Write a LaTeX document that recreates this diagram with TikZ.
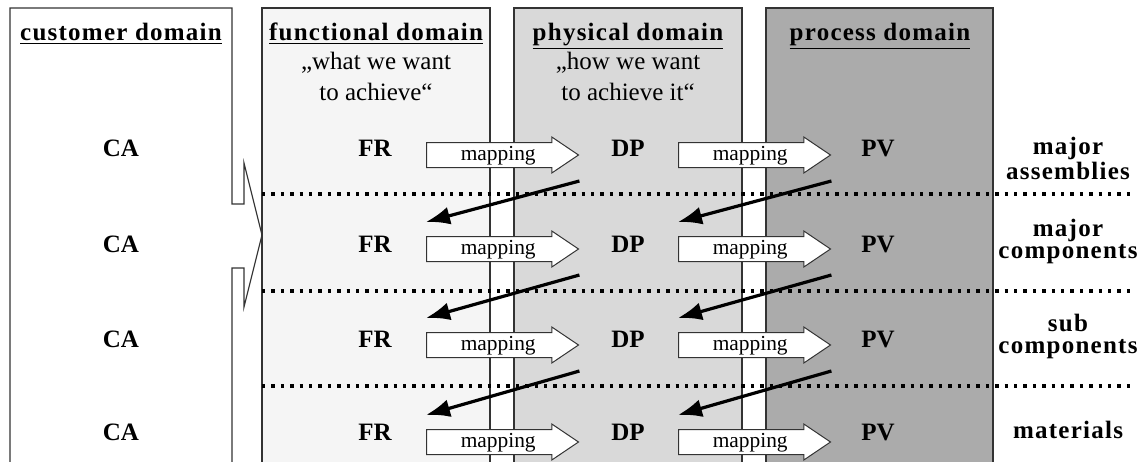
\documentclass[tikz,border=0pt]{standalone}
\usepackage{fontspec}
\setmainfont{Liberation Serif}
\newfontfamily\spacedfont[LetterSpace=5]{Liberation Serif}
\usetikzlibrary{shapes.arrows,arrows.meta}

\tikzset{
  domainbox/.style={draw=black!80,line width=0.6pt},
  domtitle/.style={font=\fontsize{12.5}{15}\spacedfont\bfseries,anchor=base},
  domnote/.style={font=\fontsize{12.5}{15.5}\selectfont,align=center,anchor=base},
  symbol/.style={font=\fontsize{12.5}{15}\selectfont\bfseries},
  rowlabel/.style={font=\fontsize{12.5}{11}\spacedfont\bfseries,align=center,anchor=base},
  maparrow/.style={single arrow,draw=black!80,fill=white,line width=0.5pt,
    minimum height=76pt,single arrow head extend=2.75pt,single arrow tip angle=68,
    inner ysep=1.5pt,text height=7pt,text depth=2pt,
    font=\fontsize{10.7}{12}\selectfont,anchor=tail},
  backarrow/.style={line width=1.6pt,-{Latex[length=12pt,width=9pt]}},
  levelsep/.style={line width=1.7pt,dash pattern=on 1.7pt off 3pt}
}

\begin{document}
\begin{tikzpicture}[x=0.5pt,y=-0.5pt]
  \useasboundingbox (0,0) rectangle (1140,461);
  % the four domains
  \filldraw[domainbox,fill=white] (10,462) -- (10,8) -- (232,8) -- (232,204) -- (244,204)
    -- (244,163) -- (262,235) -- (244,307) -- (244,268) -- (232,268) -- (232,462);
  \filldraw[domainbox,fill=black!4] (262,462) -- (262,8) -- (490,8) -- (490,462);
  \filldraw[domainbox,fill=black!15] (514,462) -- (514,8) -- (742,8) -- (742,462);
  \filldraw[domainbox,fill=black!33] (766,462) -- (766,8) -- (993,8) -- (993,462);

  \node[domtitle] (hca) at (121,40) {\underline{customer domain}};
  \node[domtitle] (hfr) at (376,40) {\underline{functional domain}};
  \node[domtitle] (hdp) at (628,40) {\underline{physical domain}};
  \node[domtitle] (hpv) at (880,40) {\underline{process domain}};
  \node[domnote] (nfr) at (376,100) {„what we want\\to achieve“};
  \node[domnote] (ndp) at (628,100) {„how we want\\to achieve it“};

  % levels
  \foreach \y in {194,291,386}
    \draw[levelsep] (262,\y) -- (1132,\y);

  \foreach \r/\y/\m in {1/148.5/155,2/244.5/249,3/339/345,4/432.5/442}{
    \node[symbol] (CA\r) at (121,\y) {CA};
    \node[symbol] (FR\r) at (375,\y) {FR};
    \node[symbol] (DP\r) at (628,\y) {DP};
    \node[symbol] (PV\r) at (878,\y) {PV};
    \node[maparrow] (fd\r) at (426,\m) {\hspace*{5pt}mapping};
    \node[maparrow] (dp\r) at (678,\m) {\hspace*{5pt}mapping};
  }

  \foreach \r/\s in {1/2,2/3,3/4}{
    \draw[backarrow] ([yshift=-13pt]fd\r.tip) -- ([yshift=13.5pt]fd\s.tail);
    \draw[backarrow] ([yshift=-13pt]dp\r.tip) -- ([yshift=13.5pt]dp\s.tail);
  }

  \node[rowlabel] (lv1) at (1068,179) {major\\assemblies};
  \node[rowlabel] (lv2) at (1068,258) {major\\components};
  \node[rowlabel] (lv3) at (1068,353) {sub\\components};
  \node[rowlabel] (lv4) at (1068,438) {materials};
\end{tikzpicture}
\end{document}
